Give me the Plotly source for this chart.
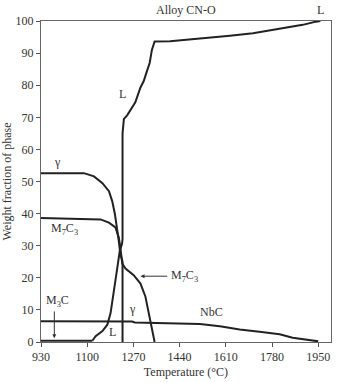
import plotly.graph_objects as go

# Data
L_T = [1119, 1131, 1156, 1174, 1186, 1196, 1204, 1213, 1220, 1228, 1230, 1230, 1235, 1247, 1262, 1277, 1296, 1308, 1318, 1330, 1338, 1348, 1405, 1430, 1490, 1540, 1625, 1710, 1771, 1832, 1893, 1942, 1958]
L_W = [0.4, 1.8, 3.4, 5.4, 9.0, 14.0, 19.3, 24.4, 28.5, 30.5, 32, 65.0, 69.5, 70.6, 72.6, 74.7, 79.3, 81.3, 83.9, 87.0, 91.0, 93.6, 93.7, 93.9, 94.2, 94.7, 95.4, 96.2, 97.0, 97.8, 98.8, 99.8, 100.0]

G_T = [930, 1088, 1125, 1156, 1180, 1192, 1202, 1210, 1216, 1222, 1228, 1230, 1230]
G_W = [52.6, 52.6, 51.6, 49.5, 47.0, 43.9, 39.8, 35.7, 31.6, 27.5, 25.5, 25.0, 0.0]

M7_T = [930, 1149, 1180, 1204, 1216, 1222, 1229, 1241, 1271, 1296, 1314, 1326, 1338, 1348]
M7_W = [38.6, 38.2, 37.2, 35.7, 32.6, 29.5, 24.4, 22.9, 20.8, 18.2, 14.2, 9.0, 3.9, 0.0]

M3_T = [930, 1119]
M3_W = [0.4, 0.4]

NbC_T = [930, 1265, 1275, 1405, 1515, 1588, 1661, 1734, 1808, 1856, 1950]
NbC_W = [6.5, 6.4, 6.1, 5.9, 5.6, 4.9, 3.9, 3.2, 2.4, 1.3, 0.2]

x_ticks = [930, 1100, 1270, 1440, 1610, 1780, 1950]
y_ticks = [0, 10, 20, 30, 40, 50, 60, 70, 80, 90, 100]

FONT = "Liberation Serif, Times New Roman, serif"
LC = "#222222"

fig = go.Figure()
for T, W in [(L_T, L_W), (G_T, G_W), (M7_T, M7_W), (M3_T, M3_W), (NbC_T, NbC_W)]:
    fig.add_trace(go.Scatter(x=T, y=W, mode="lines", line=dict(color=LC, width=2), showlegend=False, hoverinfo="skip"))

ann = [
    dict(x=1229, y=77.4, text="L"),
    dict(x=991, y=56, text="γ"),
    dict(x=1018, y=35.3, text="M<sub>7</sub>C<sub>3</sub>"),
    dict(x=1265, y=10.2, text="γ"),
    dict(x=1192, y=3.0, text="L"),
    dict(x=1558, y=9.2, text="NbC"),
    dict(x=991, y=12.8, text="M<sub>3</sub>C"),
]
annotations = []
for a in ann:
    annotations.append(dict(x=a["x"], y=a["y"], text=a["text"], showarrow=False, xref="x", yref="y",
                            font=dict(family=FONT, size=12, color="#333")))
# M7C3 with arrow
annotations.append(dict(x=1296, y=20.5, ax=1400, ay=20.5, axref="x", ayref="y", xref="x", yref="y",
                        text="", showarrow=True, arrowhead=2, arrowsize=0.8, arrowwidth=1, arrowcolor="#333"))
annotations.append(dict(x=1402, y=20.5, text="M<sub>7</sub>C<sub>3</sub>", showarrow=False, xanchor="left",
                        xref="x", yref="y", font=dict(family=FONT, size=12, color="#333")))
# M3C arrow
annotations.append(dict(x=979, y=1.2, ax=979, ay=10, axref="x", ayref="y", xref="x", yref="y",
                        text="", showarrow=True, arrowhead=2, arrowsize=0.8, arrowwidth=1, arrowcolor="#333"))
# Title and top-right L
annotations.append(dict(x=186, y=13, xref="paper", yref="paper", text="", showarrow=False))
annotations.append(dict(x=0.5, y=1.0, xref="paper", yref="paper", yanchor="bottom", yshift=2,
                        text="Alloy CN-O", showarrow=False, font=dict(family=FONT, size=12, color="#333")))
annotations.append(dict(x=1958, y=100, xref="x", yref="y", yanchor="bottom", yshift=2,
                        text="L", showarrow=False, font=dict(family=FONT, size=12, color="#333")))
annotations = [a for a in annotations if a.get("text") != "" or a.get("showarrow")]

fig.update_layout(
    width=337, height=382,
    margin=dict(l=40, r=5, t=21, b=36),
    plot_bgcolor="white", paper_bgcolor="white",
    font=dict(family=FONT, size=12, color="#333"),
    annotations=annotations,
)
fig.update_xaxes(range=[930, 1997], tickvals=x_ticks, ticks="outside", ticklen=4, tickcolor="#555",
                 showgrid=False, zeroline=False, showline=True, linecolor="#666", linewidth=1, mirror=True,
                 title=dict(text="Temperature (°C)", font=dict(family=FONT, size=12), standoff=4),
                 tickfont=dict(family=FONT, size=12, color="#333"))
fig.update_yaxes(range=[0, 100], tickvals=y_ticks, ticks="outside", ticklen=4, tickcolor="#555",
                 showgrid=False, zeroline=False, showline=True, linecolor="#666", linewidth=1, mirror=True,
                 title=dict(text="Weight fraction of phase", font=dict(family=FONT, size=12), standoff=2),
                 tickfont=dict(family=FONT, size=12, color="#333"))

fig.write_html("out.html")
